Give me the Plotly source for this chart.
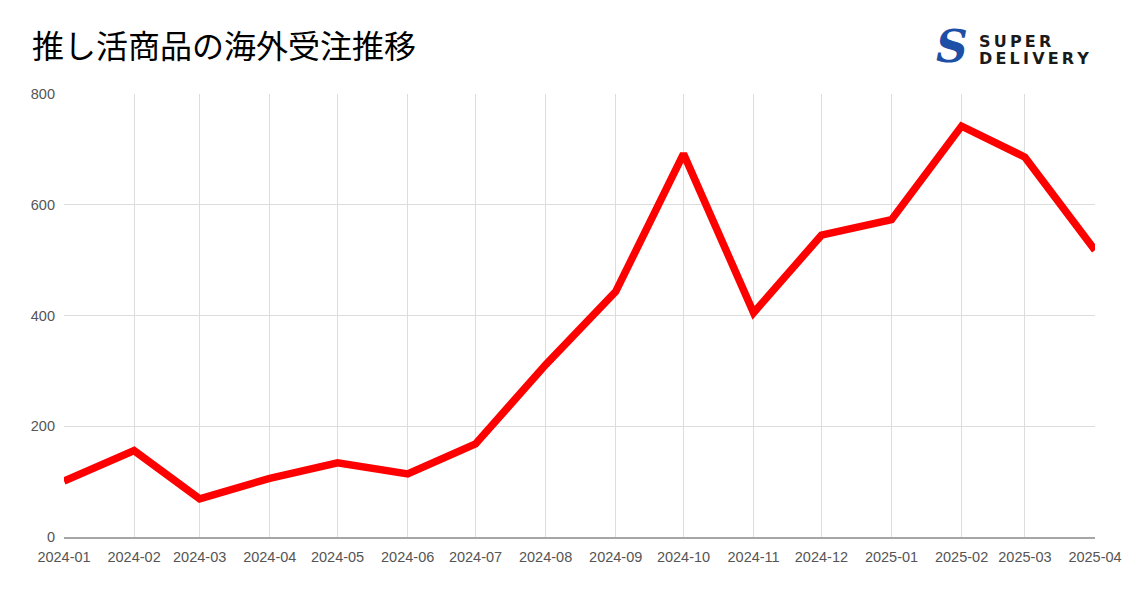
import plotly.graph_objects as go

months = ["2024-01-01", "2024-02-01", "2024-03-01", "2024-04-01", "2024-05-01", "2024-06-01",
          "2024-07-01", "2024-08-01", "2024-09-01", "2024-10-01", "2024-11-01", "2024-12-01",
          "2025-01-01", "2025-02-01", "2025-03-01", "2025-04-01"]
tick_labels = ["2024-01", "2024-02", "2024-03", "2024-04", "2024-05", "2024-06",
               "2024-07", "2024-08", "2024-09", "2024-10", "2024-11", "2024-12",
               "2025-01", "2025-02", "2025-03", "2025-04"]
orders = [101, 156, 69, 106, 134, 114, 168, 311, 443, 692, 405, 545, 573, 742, 686, 518]
y_ticks = [0, 200, 400, 600, 800]

W, H = 1126, 591
L, R, T, B = 64, 31, 94, 54
pw, ph = W - L - R, H - T - B

def px(x):
    return (x - L) / pw

def py(y):
    return (H - B - y) / ph

fig = go.Figure()
fig.add_trace(go.Scatter(
    x=months, y=orders, mode="lines",
    line=dict(color="#ff0000", width=7.5),
    showlegend=False, hoverinfo="x+y",
))

fig.update_layout(
    width=W, height=H,
    margin=dict(l=L, r=R, t=T, b=B, autoexpand=False),
    paper_bgcolor="white", plot_bgcolor="white",
    font=dict(family="Liberation Sans, Arial, sans-serif", size=14.5, color="#555555"),
    title=dict(
        text="推し活商品の海外受注推移",
        x=32 / W, xanchor="left", xref="container",
        y=1 - 47 / H, yanchor="middle", yref="container",
        font=dict(family="Noto Sans CJK JP", size=32, color="#000000"),
    ),
    xaxis=dict(
        type="date",
        range=[months[0], months[-1]],
        tickmode="array", tickvals=months, ticktext=tick_labels,
        showgrid=True, gridcolor="#dddddd", gridwidth=1,
        showline=True, linecolor="#a6a6a6", linewidth=2,
        ticks="", ticklabelstandoff=6,
        zeroline=False, fixedrange=True,
    ),
    yaxis=dict(
        range=[0, 800],
        tickmode="array", tickvals=y_ticks,
        showgrid=True, gridcolor="#dddddd", gridwidth=1,
        showline=False, zeroline=False,
        ticks="", ticklabelstandoff=8, fixedrange=True,
    ),
)

# Logo: stylised S mark + wordmark
fig.add_annotation(
    x=px(952), y=py(46), xref="paper", yref="paper",
    text="<b><i>S</i></b>", showarrow=False,
    font=dict(family="DejaVu Serif", size=44, color="#1d4fa6"),
    xanchor="center", yanchor="middle",
)
thin = "\u2009"
fig.add_annotation(
    x=px(977), y=py(41), xref="paper", yref="paper",
    text="<b>" + thin.join("SUPER") + "</b>", showarrow=False,
    font=dict(family="DejaVu Sans", size=16, color="#1a1a1a"),
    xanchor="left", yanchor="middle",
)
fig.add_annotation(
    x=px(977), y=py(58.5), xref="paper", yref="paper",
    text="<b>" + thin.join("DELIVERY") + "</b>", showarrow=False,
    font=dict(family="DejaVu Sans", size=16, color="#1a1a1a"),
    xanchor="left", yanchor="middle",
)

fig.write_html(
    "out.html",
    config={"displayModeBar": False},
    post_script="document.body.style.margin='0';document.body.style.padding='0';",
)
